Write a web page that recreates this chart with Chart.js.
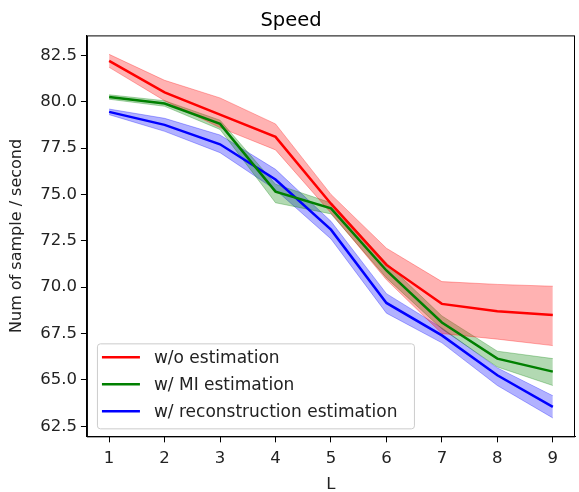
<!DOCTYPE html>
<html lang="en">
<head>
<meta charset="UTF-8">
<title>Speed</title>
<script src="https://cdn.jsdelivr.net/npm/chart.js"></script>
<style>
  html, body { margin: 0; padding: 0; background: #fff; }
  #wrap { width: 579px; height: 492px; }
</style>
</head>
<body>
<div id="wrap"><canvas id="speed"></canvas></div>
<script>
// L values on the x axis
const L = [1, 2, 3, 4, 5, 6, 7, 8, 9];
const yTicks = [62.5, 65.0, 67.5, 70.0, 72.5, 75.0, 77.5, 80.0, 82.5];

// w/o estimation
const woMean  = [82.2, 80.5, 79.3, 78.1, 74.5, 71.2, 69.1, 68.7, 68.5];
const woUpper = [82.55, 81.15, 80.2, 78.8, 75.0, 72.1, 70.3, 70.15, 70.05];
const woLower = [81.85, 80.05, 78.6, 77.4, 74.0, 70.4, 67.5, 67.2, 66.85];

// w/ MI estimation
const miMean  = [80.25, 79.9, 78.8, 75.15, 74.25, 70.9, 68.1, 66.15, 65.45];
const miUpper = [80.37, 80.05, 79.0, 75.55, 74.55, 71.3, 68.45, 66.55, 66.15];
const miLower = [80.13, 79.75, 78.5, 74.55, 73.95, 70.5, 67.75, 65.7, 64.7];

// w/ reconstruction estimation
const recMean  = [79.45, 78.75, 77.7, 75.8, 73.1, 69.15, 67.4, 65.25, 63.55];
const recUpper = [79.6, 79.1, 78.2, 76.35, 73.55, 69.65, 67.8, 65.65, 64.15];
const recLower = [79.3, 78.4, 77.25, 75.25, 72.6, 68.6, 67.0, 64.7, 62.95];

const pts = arr => arr.map((v, i) => ({ x: L[i], y: v }));

function series(label, color, fillColor, mean, upper, lower) {
  return [
    { label: label, data: pts(mean), borderColor: color, borderWidth: 2.5,
      pointRadius: 0, fill: false, tension: 0, order: 0, isMain: true },
    { label: label + ' hi', data: pts(upper), borderColor: fillColor, borderWidth: 1,
      pointRadius: 0, fill: false, tension: 0, order: 1 },
    { label: label + ' lo', data: pts(lower), borderColor: fillColor, borderWidth: 1,
      backgroundColor: fillColor, pointRadius: 0, fill: '-1', tension: 0, order: 1 }
  ];
}

const datasets = [].concat(
  series('w/o estimation', '#ff0000', 'rgba(255,0,0,0.3)', woMean, woUpper, woLower),
  series('w/ MI estimation', '#008000', 'rgba(0,128,0,0.3)', miMean, miUpper, miLower),
  series('w/ reconstruction estimation', '#0000ff', 'rgba(0,0,255,0.3)', recMean, recUpper, recLower)
);

// frame around the plot area + legend box in the lower-left corner
const framePlugin = {
  id: 'frame',
  afterDraw(chart) {
    const { ctx, chartArea: a } = chart;
    ctx.save();
    ctx.strokeStyle = '#000';
    ctx.lineWidth = 1;
    ctx.strokeRect(a.left + 0.5, a.top + 0.5, a.right - a.left - 1, a.bottom - a.top);

    const items = chart.data.datasets.filter(d => d.isMain);
    const bx = a.left + 10, bw = 317, bh = 85, by = a.bottom - 8 - bh;
    ctx.fillStyle = 'rgba(255,255,255,0.8)';
    ctx.strokeStyle = '#cccccc';
    ctx.beginPath();
    ctx.roundRect(bx + 0.5, by + 0.5, bw, bh, 3);
    ctx.fill();
    ctx.stroke();
    ctx.font = '17px "DejaVu Sans"';
    ctx.textBaseline = 'middle';
    items.forEach((d, i) => {
      const y = by + 14 + i * 27;
      ctx.strokeStyle = d.borderColor;
      ctx.lineWidth = 2.5;
      ctx.beginPath();
      ctx.moveTo(bx + 5, y);
      ctx.lineTo(bx + 43, y);
      ctx.stroke();
      ctx.fillStyle = '#222';
      ctx.fillText(d.label, bx + 57, y + 1);
    });
    ctx.restore();
  }
};

Chart.defaults.font.family = '"DejaVu Sans", sans-serif';
Chart.defaults.color = '#222';

new Chart(document.getElementById('speed'), {
  type: 'line',
  data: { datasets },
  plugins: [framePlugin],
  options: {
    responsive: true,
    maintainAspectRatio: false,
    animation: false,
    layout: { padding: { top: 0, right: 4, bottom: 0, left: 7 } },
    plugins: {
      legend: { display: false },
      tooltip: { enabled: false },
      title: {
        display: true, text: 'Speed', color: '#000',
        font: { size: 19.5, weight: 'normal' }, padding: { top: 9, bottom: 3 }
      }
    },
    scales: {
      x: {
        type: 'linear', min: 0.6, max: 9.4,
        afterBuildTicks: s => { s.ticks = L.map(v => ({ value: v })); },
        grid: { display: true, drawOnChartArea: false, drawTicks: true, tickLength: 6, color: '#000' },
        border: { color: '#000' },
        ticks: { color: '#222', font: { size: 16.5 }, padding: 6, maxRotation: 0 },
        title: { display: true, text: 'L', color: '#222', font: { size: 16.5, lineHeight: 0.9 }, padding: { top: 3, bottom: 0 } }
      },
      y: {
        type: 'linear', min: 61.96, max: 83.57,
        afterBuildTicks: s => { s.ticks = yTicks.map(v => ({ value: v })); },
        grid: { display: true, drawOnChartArea: false, drawTicks: true, tickLength: 6, color: '#000' },
        border: { color: '#000' },
        ticks: { color: '#222', font: { size: 16.5 }, padding: 4, callback: v => v.toFixed(1) },
        title: { display: true, text: 'Num of sample / second', color: '#222', font: { size: 16 }, padding: { top: 0, bottom: 10 } }
      }
    }
  }
});
</script>
</body>
</html>
